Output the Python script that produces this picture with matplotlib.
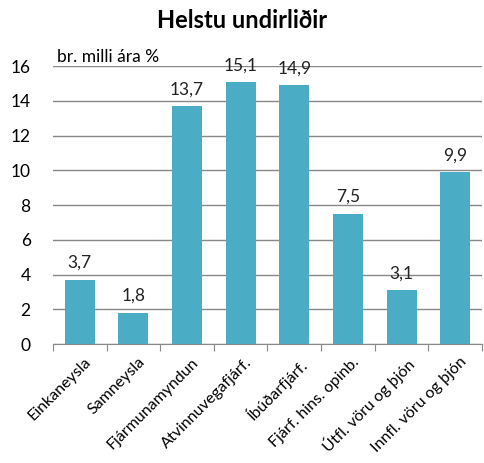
import numpy as np
import matplotlib
matplotlib.use('Agg')
import matplotlib.pyplot as plt

categories = ['Einkaneysla', 'Samneysla', 'Fjármunamyndun', 'Atvinnuvegafjárf.',
              'Íbúðarfjárf.', 'Fjárf. hins. opinb.', 'Útfl. vöru og þjón',
              'Innfl. vöru og þjón']
values = [3.7, 1.8, 13.7, 15.1, 14.9, 7.5, 3.1, 9.9]
value_labels = ['3,7', '1,8', '13,7', '15,1', '14,9', '7,5', '3,1', '9,9']
yticks = [0, 2, 4, 6, 8, 10, 12, 14, 16]

plt.rcParams['font.family'] = ['Lato', 'DejaVu Sans']
fs = 12.5

fig = plt.figure(figsize=(4.85, 4.63), dpi=100)
ax = fig.add_axes([0.109, 0.257, 0.885, 0.6])

x = np.arange(len(categories))
ax.bar(x, values, width=0.56, color='#4bacc6', zorder=3)

for xi, v, lab in zip(x, values, value_labels):
    ax.text(xi, v + 0.5, lab, ha='center', va='bottom', fontsize=fs, color='#222222')

ax.set_xlim(-0.5, len(categories) - 0.5)
ax.set_ylim(0, 16)
ax.set_yticks(yticks)
ax.set_yticklabels([str(t) for t in yticks], fontsize=fs)
ax.yaxis.grid(True, color='#888888', linewidth=1, zorder=0)
ax.tick_params(axis='y', length=0, pad=16)

# category boundaries as x ticks
ax.set_xticks(np.arange(len(categories) + 1) - 0.5)
ax.set_xticklabels([])
ax.tick_params(axis='x', length=5, color='#888888', direction='out')
for xi, lab in zip(x, categories):
    ax.annotate(lab, xy=(xi, 0), xytext=(3, -8), textcoords='offset points',
                ha='right', va='top', rotation=45, rotation_mode='anchor',
                fontsize=11.5, annotation_clip=False)

for s in ['top', 'right', 'left']:
    ax.spines[s].set_visible(False)
ax.spines['bottom'].set_color('#888888')
ax.spines['bottom'].set_zorder(4)

ax.text(0.01, 1.005, 'br. milli ára %', transform=ax.transAxes,
        ha='left', va='bottom', fontsize=fs)

fig.suptitle('Helstu undirliðir', fontsize=17, fontweight='bold', y=0.98)

fig.savefig('out.png', dpi=100)
